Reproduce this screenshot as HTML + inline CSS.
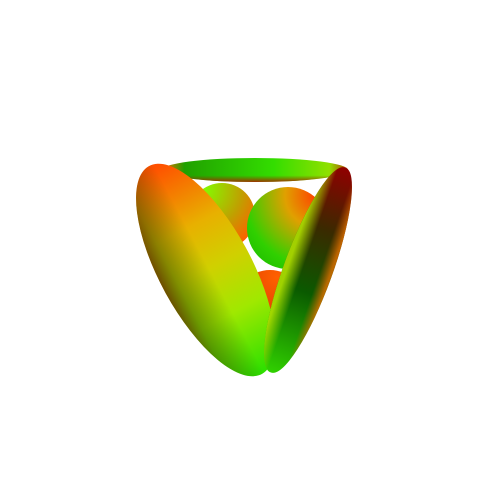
<!DOCTYPE html>
<html><head><meta charset="utf-8"><style>
html,body{margin:0;padding:0;background:#fff;width:500px;height:500px;overflow:hidden}
</style></head><body>
<svg width="500" height="500" xmlns="http://www.w3.org/2000/svg">
<defs>
<linearGradient id="gTop" gradientUnits="userSpaceOnUse" x1="162" y1="170" x2="348" y2="170">
<stop offset="0" stop-color="#ff6a00"/><stop offset="0.12" stop-color="#20a000"/><stop offset="0.6" stop-color="#33dd00"/><stop offset="0.9" stop-color="#90e000"/><stop offset="1" stop-color="#b04000"/></linearGradient>
<linearGradient id="gTopV" gradientUnits="userSpaceOnUse" x1="0" y1="160" x2="0" y2="182">
<stop offset="0" stop-color="#000" stop-opacity="0"/><stop offset="0.7" stop-color="#903000" stop-opacity="0"/><stop offset="1" stop-color="#b02000" stop-opacity="0.9"/></linearGradient>
<linearGradient id="gLeft" gradientUnits="userSpaceOnUse" x1="150" y1="170" x2="258" y2="372">
<stop offset="0" stop-color="#ff5000"/><stop offset="0.3" stop-color="#e8b000"/><stop offset="0.5" stop-color="#d0d000"/><stop offset="0.72" stop-color="#a0e800"/><stop offset="1" stop-color="#30e000"/></linearGradient>
<linearGradient id="gLeftEdge" gradientUnits="userSpaceOnUse" x1="168" y1="305" x2="215" y2="280">
<stop offset="0" stop-color="#5a2000" stop-opacity="0.85"/><stop offset="0.35" stop-color="#305000" stop-opacity="0.5"/><stop offset="1" stop-color="#305000" stop-opacity="0"/></linearGradient>
<linearGradient id="gRight" gradientUnits="userSpaceOnUse" x1="345" y1="168" x2="271" y2="372">
<stop offset="0" stop-color="#900000"/><stop offset="0.3" stop-color="#3a2a00"/><stop offset="0.6" stop-color="#0a5a00"/><stop offset="1" stop-color="#30d000"/></linearGradient>
<linearGradient id="gRightEdge" gradientUnits="userSpaceOnUse" x1="286" y1="272" x2="326" y2="286">
<stop offset="0" stop-color="#b0e000" stop-opacity="0.9"/><stop offset="0.35" stop-color="#b0e000" stop-opacity="0"/><stop offset="0.75" stop-color="#d06000" stop-opacity="0"/><stop offset="1" stop-color="#e07000" stop-opacity="0.8"/></linearGradient>
<radialGradient id="gS1" cx="0.2" cy="0.1" r="1"><stop offset="0" stop-color="#80ff00"/><stop offset="0.6" stop-color="#c0a000"/><stop offset="1" stop-color="#ff6000"/></radialGradient>
<radialGradient id="gS2" cx="0.85" cy="0.1" r="1.1"><stop offset="0" stop-color="#ff4000"/><stop offset="0.35" stop-color="#e0a000"/><stop offset="0.8" stop-color="#30d000"/><stop offset="1" stop-color="#20c000"/></radialGradient>
<radialGradient id="gS3" cx="0.6" cy="0.1" r="1"><stop offset="0" stop-color="#ff6000"/><stop offset="0.6" stop-color="#e04000"/><stop offset="1" stop-color="#802000"/></radialGradient>
</defs>
<circle cx="222" cy="216" r="33" fill="url(#gS1)"/>
<circle cx="270" cy="306" r="36" fill="url(#gS3)"/>
<circle cx="288" cy="228" r="41" fill="url(#gS2)"/>
<ellipse cx="255" cy="170" rx="93" ry="12" fill="url(#gTop)"/>
<ellipse cx="255" cy="170" rx="93" ry="12" fill="url(#gTopV)"/>
<path d="M148.7,166.3 A118 46 61.5 1 1 262.3,373.7 A118 46 61.5 1 1 148.7,166.3 Z" fill="url(#gLeft)"/>
<path d="M148.7,166.3 A118 46 61.5 1 1 262.3,373.7 A118 46 61.5 1 1 148.7,166.3 Z" fill="url(#gLeftEdge)"/>
<path d="M345.3,167.6 A109 24 110 1 1 270.7,372.4 A109 24 110 1 1 345.3,167.6 Z" fill="url(#gRight)"/>
<path d="M345.3,167.6 A109 24 110 1 1 270.7,372.4 A109 24 110 1 1 345.3,167.6 Z" fill="url(#gRightEdge)"/>
</svg>
</body></html>
